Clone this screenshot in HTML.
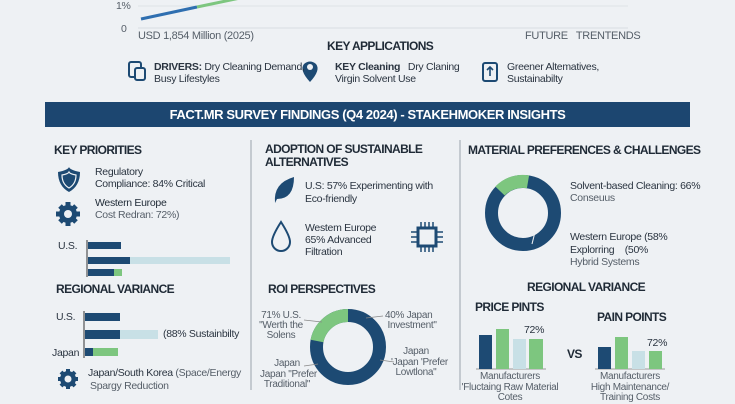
<!DOCTYPE html>
<html><head><meta charset="utf-8"><style>
body{margin:0;width:735px;height:400px;overflow:hidden;background:#eef1f4;font-family:"Liberation Sans",sans-serif;color:#2a3440;position:relative}
.t{position:absolute;white-space:nowrap;font-size:10.5px;line-height:12px;letter-spacing:-0.3px}
.b{font-weight:bold}
.h{position:absolute;white-space:nowrap;font-weight:bold;font-size:12px;letter-spacing:-0.6px;color:#1f2a36}
.g{color:#555e68}
.bar{position:absolute}
.n{background:#1d4a73}.gr{background:#7dc67f}.lb{background:#c8e0e6}
</style></head><body>
<svg width="735" height="400" style="position:absolute;left:0;top:0">
 <line x1="138" y1="6" x2="628" y2="6" stroke="#dde2e6"/>
 <line x1="138" y1="28" x2="628" y2="28" stroke="#d8dde2"/>
 <line x1="141" y1="19" x2="197" y2="7" stroke="#2f6fb0" stroke-width="3"/>
 <line x1="197" y1="7" x2="245" y2="-3" stroke="#7dc67f" stroke-width="3"/>
 <rect x="45" y="102" width="645" height="25" fill="#1c4670"/>
 <line x1="251" y1="140" x2="251" y2="390" stroke="#9aa3ab"/>
 <line x1="460" y1="140" x2="460" y2="390" stroke="#9aa3ab"/>
 <rect x="129" y="62" width="12" height="15" rx="2" fill="none" stroke="#1d4a73" stroke-width="2"/>
 <rect x="135" y="68" width="10" height="12" rx="2" fill="#eef1f4" stroke="#1d4a73" stroke-width="2"/>
 <path d="M304 64 q6 -5 12 0 q5 6 -6 18 q-11 -12 -6 -18z" fill="#1d4a73"/>
 <circle cx="310" cy="67" r="3" fill="#eef1f4"/>
 <rect x="483" y="63" width="14" height="18" rx="2" fill="none" stroke="#1d4a73" stroke-width="2"/>
 <path d="M490 67 v9 M487 70 l3 -3 l3 3" stroke="#1d4a73" stroke-width="1.6" fill="none"/>
 <path d="M58 172 q10 -2 11 -5 q1 3 11 5 q0 14 -11 20 q-11 -6 -11 -20z" fill="#1d4a73"/>
 <path d="M62 175 q6 -1 7 -3 q1 2 7 3 q0 9 -7 13 q-7 -4 -7 -13z" fill="none" stroke="#eef1f4" stroke-width="1.2"/>
 <g fill="#1d4a73">
  <circle cx="68" cy="214" r="9"/><g stroke="#1d4a73" stroke-width="5">
  <line x1="68" y1="202" x2="68" y2="226"/><line x1="56" y1="214" x2="80" y2="214"/>
  <line x1="60" y1="206" x2="76" y2="222"/><line x1="76" y1="206" x2="60" y2="222"/></g>
  <circle cx="68" cy="379" r="8"/><g stroke="#1d4a73" stroke-width="4">
  <line x1="68" y1="369" x2="68" y2="389"/><line x1="58" y1="379" x2="78" y2="379"/>
  <line x1="61" y1="372" x2="75" y2="386"/><line x1="75" y1="372" x2="61" y2="386"/></g>
 </g>
 <circle cx="68" cy="214" r="4" fill="#eef1f4"/>
 <circle cx="68" cy="379" r="3.5" fill="#eef1f4"/>
 <line x1="87" y1="240" x2="87" y2="277" stroke="#333"/>
 <line x1="84" y1="311" x2="84" y2="358" stroke="#333"/>
 <path d="M275 203 q-2 -20 19 -26 q0 22 -17 22z" fill="#1d4a73"/>
 <path d="M281 222 q-9 14 -9 20 a9 9 0 0 0 18 0 q0 -6 -9 -20z" fill="none" stroke="#1d4a73" stroke-width="2"/>
 <rect x="418" y="228" width="18" height="18" fill="none" stroke="#1d4a73" stroke-width="3"/>
 <g stroke="#1d4a73" stroke-width="1.5">
 <line x1="421" y1="222" x2="421" y2="227"/><line x1="425" y1="222" x2="425" y2="227"/><line x1="429" y1="222" x2="429" y2="227"/><line x1="433" y1="222" x2="433" y2="227"/>
 <line x1="421" y1="247" x2="421" y2="252"/><line x1="425" y1="247" x2="425" y2="252"/><line x1="429" y1="247" x2="429" y2="252"/><line x1="433" y1="247" x2="433" y2="252"/>
 <line x1="411" y1="232" x2="417" y2="232"/><line x1="411" y1="237" x2="417" y2="237"/><line x1="411" y1="242" x2="417" y2="242"/>
 <line x1="437" y1="232" x2="443" y2="232"/><line x1="437" y1="237" x2="443" y2="237"/><line x1="437" y1="242" x2="443" y2="242"/></g>
 <circle cx="348" cy="347" r="31.5" fill="none" stroke="#1d4a73" stroke-width="13"/>
 <path d="M348 315.5 A31.5 31.5 0 0 0 317 341" fill="none" stroke="#7dc67f" stroke-width="13"/>
 <g stroke="#888" stroke-width="0.8" fill="none">
 <line x1="304" y1="320" x2="322" y2="322"/><line x1="366" y1="318" x2="383" y2="316"/>
 <line x1="304" y1="366" x2="318" y2="364"/><line x1="380" y1="360" x2="394" y2="362"/></g>
 <circle cx="523" cy="213" r="31.5" fill="none" stroke="#1d4a73" stroke-width="13"/>
 <path d="M528 181.8 A31.5 31.5 0 0 0 500 191" fill="none" stroke="#7dc67f" stroke-width="13"/>
 <line x1="532" y1="244" x2="540" y2="212" stroke="#eef1f4" stroke-width="1"/>
 <line x1="476" y1="369" x2="546" y2="369" stroke="#999"/>
 <line x1="595" y1="369" x2="665" y2="369" stroke="#999"/>
</svg>

<div class="t g" style="left:116px;top:0px">1%</div>
<div class="t g" style="left:121px;top:23px">0</div>
<div class="t g" style="left:138px;top:30px;font-size:11px">USD 1,854 Million (2025)</div>
<div class="t g" style="left:525px;top:30px;font-size:11px">FUTURE &nbsp; TRENTENDS</div>
<div class="h" style="left:327px;top:39px">KEY APPLICATIONS</div>
<div class="t" style="left:154px;top:61px"><b>DRIVERS:</b> Dry Cleaning Demand,<br>Busy Lifestyles</div>
<div class="t" style="left:335px;top:61px"><b>KEY Cleaning</b> &nbsp; Dry Claning<br>Virgin Solvent Use</div>
<div class="t" style="left:507px;top:61px">Greener Altematives,<br>Sustainabilty</div>
<div class="h" style="left:0;width:735px;text-align:center;top:107px;color:#fff;font-size:13px;letter-spacing:-0.4px">FACT.MR SURVEY FINDINGS (Q4 2024) - STAKEHMOKER INSIGHTS</div>

<div class="h" style="left:54px;top:143px">KEY PRIORITIES</div>
<div class="t" style="left:95px;top:166px;line-height:12px">Regulatory<br>Compliance: 84% Critical</div>
<div class="t" style="left:95px;top:197px"><span style="color:#1f2a36">Western Europe</span><br><span class="g">Cost Redran: 72%)</span></div>
<div class="t" style="left:58px;top:240px">U.S.</div>
<div class="bar n" style="left:88px;top:242px;width:33px;height:7px"></div>
<div class="bar n" style="left:88px;top:257px;width:42px;height:7px"></div>
<div class="bar lb" style="left:130px;top:257px;width:100px;height:7px"></div>
<div class="bar n" style="left:88px;top:269px;width:26px;height:7px"></div>
<div class="bar gr" style="left:114px;top:269px;width:8px;height:7px"></div>
<div class="h" style="left:56px;top:282px">REGIONAL VARIANCE</div>
<div class="t" style="left:56px;top:311px">U.S.</div>
<div class="bar n" style="left:85px;top:313px;width:35px;height:8px"></div>
<div class="bar n" style="left:85px;top:330px;width:35px;height:9px"></div>
<div class="bar lb" style="left:120px;top:330px;width:38px;height:9px"></div>
<div class="t" style="left:163px;top:328px">(88% Sustainbilty</div>
<div class="t" style="left:52px;top:347px">Japan</div>
<div class="bar n" style="left:85px;top:348px;width:8px;height:8px"></div>
<div class="bar gr" style="left:93px;top:348px;width:25px;height:8px"></div>
<div class="t" style="left:88px;top:367px">Japan/South Korea <span class="g">(Space/Energy</span></div>
<div class="t g" style="left:90px;top:380px">Spargy Reduction</div>

<div class="h" style="left:265px;top:143px;line-height:13px">ADOPTION OF SUSTAINABLE<br>ALTERNATIVES</div>
<div class="t" style="left:305px;top:180px;line-height:13px">U.S: 57% Experimenting with<br>Eco-friendly</div>
<div class="t" style="left:305px;top:222px;line-height:12px">Westem Europe<br>65% Advanced<br>Filtration</div>
<div class="h" style="left:268px;top:282px">ROI PERSPECTIVES</div>
<div class="t g" style="left:256px;width:50px;text-align:center;top:311px;font-size:10px;line-height:10px">71% U.S.<br>"Werth the<br>Solens</div>
<div class="t g" style="left:385px;top:311px;font-size:10px;line-height:10px">40% Japan<br>&nbsp;Investment"</div>
<div class="t g" style="left:391px;width:50px;text-align:center;top:347px;font-size:10px;line-height:10.5px">Japan<br>'Japan 'Prefer<br>Lowtlona"</div>
<div class="t g" style="left:260px;width:54px;text-align:center;top:359px;font-size:10px;line-height:10.5px">Japan<br>Japan "Prefer<br>Traditional"</div>

<div class="h" style="left:468px;top:143px">MATERIAL PREFERENCES &amp; CHALLENGES</div>
<div class="t" style="left:570px;top:180px">Solvent-based Cleaning: 66%<br><span class="g">Conseuus</span></div>
<div class="t" style="left:570px;top:231px;line-height:12.5px">Western Europe (58%<br>Explorring &nbsp; &nbsp;(50%<br><span class="g">Hybrid Systems</span></div>
<div class="h" style="left:527px;top:280px">REGIONAL VARIANCE</div>
<div class="h" style="left:475px;top:300px">PRICE PINTS</div>
<div class="h" style="left:597px;top:310px">PAIN POINTS</div>
<div class="bar n" style="left:479px;top:335px;width:13px;height:34px"></div>
<div class="bar gr" style="left:496px;top:329px;width:13px;height:40px"></div>
<div class="bar lb" style="left:513px;top:339px;width:13px;height:30px"></div>
<div class="bar gr" style="left:529px;top:339px;width:14px;height:30px"></div>
<div class="t" style="left:524px;top:324px">72%</div>
<div class="h" style="left:567px;top:347px">VS</div>
<div class="bar n" style="left:598px;top:347px;width:13px;height:22px"></div>
<div class="bar gr" style="left:615px;top:337px;width:13px;height:32px"></div>
<div class="bar lb" style="left:632px;top:351px;width:13px;height:18px"></div>
<div class="bar gr" style="left:649px;top:351px;width:13px;height:18px"></div>
<div class="t" style="left:647px;top:337px">72%</div>
<div class="t g" style="left:460px;width:100px;text-align:center;top:372px;font-size:10px;line-height:10.5px">Manufacturers<br>'Fluctaing Raw Material<br>Cotes</div>
<div class="t g" style="left:580px;width:100px;text-align:center;top:372px;font-size:10px;line-height:10.5px">Manufacturers<br>High Maintenance/<br>Training Costs</div>
</body></html>
